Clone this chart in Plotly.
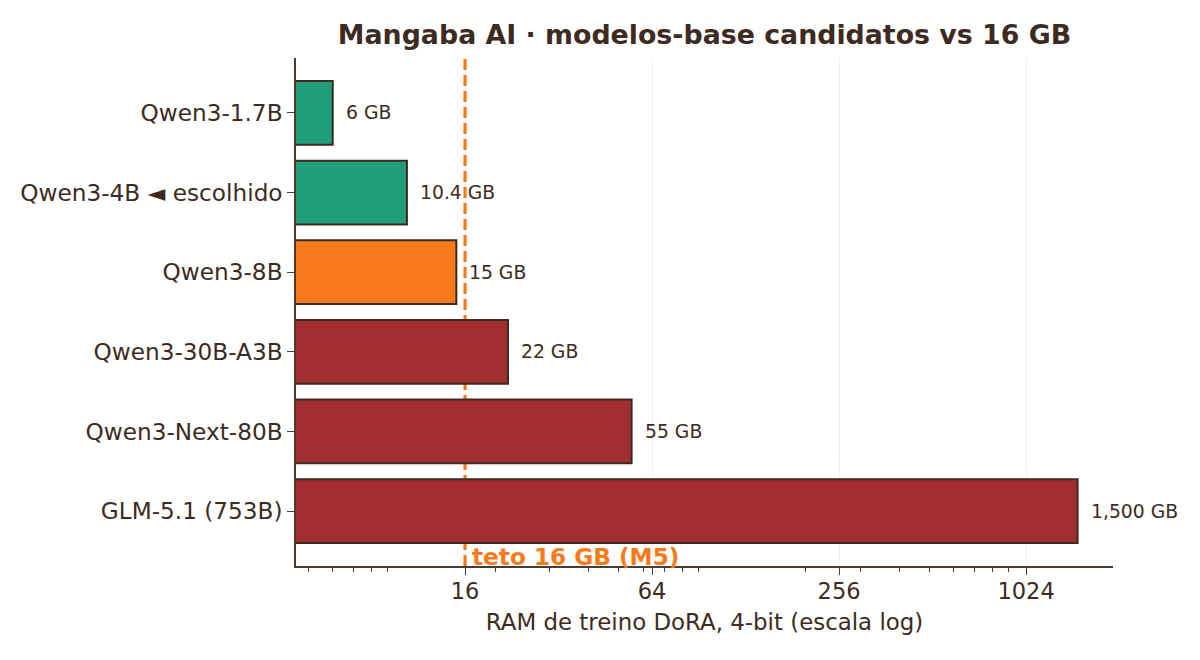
import math
import plotly.graph_objects as go

# ---- data ----
models = ["Qwen3-1.7B", "Qwen3-4B ◄ escolhido", "Qwen3-8B", "Qwen3-30B-A3B",
          "Qwen3-Next-80B", "GLM-5.1 (753B)"]
ram_gb = [6, 10.4, 15, 22, 55, 1500]
bar_colors = ["#1f9e77", "#1f9e77", "#f97a1b", "#a12d2f", "#a12d2f", "#a12d2f"]
ceiling_gb = 16
ceiling_label = "teto 16 GB (M5)"
x_tickvals = [16, 64, 256, 1024]
x_ticktext = ["16", "64", "256", "1024"]
minor_vals = [5, 6, 7, 8, 9, 20, 30, 40, 50, 60, 70, 80, 90,
              200, 300, 400, 500, 600, 700, 800, 900]
title = "Mangaba AI · modelos-base candidatos vs 16 GB"
x_title = "RAM de treino DoRA, 4-bit (escala log)"

TXT = "#3d2b22"
AX = "#4a3b33"
FONT = "DejaVu Sans"
ORANGE = "#f97a1b"

fig = go.Figure()

# ceiling line on the hidden base subplot (drawn behind the bars)
fig.add_trace(go.Scatter(
    x=[ceiling_gb, ceiling_gb], y=[0, 1], xaxis="x", yaxis="y",
    mode="lines", line=dict(color=ORANGE, width=3.2, dash="11px,5px"),
    showlegend=False, hoverinfo="skip",
))

# bars on the categorical overlay axis
fig.add_trace(go.Bar(
    y=models, x=ram_gb, orientation="h", xaxis="x", yaxis="y2",
    marker=dict(color=bar_colors, line=dict(color=TXT, width=2)),
    width=0.8, showlegend=False, hoverinfo="x+y",
))

# value labels
for m, v in zip(models, ram_gb):
    fig.add_annotation(x=math.log10(v), y=m, xref="x", yref="y2",
                       text=f"{v:,g} GB", showarrow=False, xanchor="left",
                       yanchor="middle", xshift=11,
                       font=dict(family=FONT, size=18.8, color=TXT))

fig.add_annotation(x=math.log10(ceiling_gb), y=0.018, xref="x", yref="paper",
                   text=f"<b>{ceiling_label}</b>", showarrow=False,
                   xanchor="left", yanchor="middle", xshift=5,
                   font=dict(family=FONT, size=23.2, color=ORANGE))

fig.update_layout(
    width=1200, height=660,
    margin=dict(l=296, r=87, t=58, b=94),
    paper_bgcolor="white", plot_bgcolor="white",
    font=dict(family=FONT, color=TXT),
    title=dict(text=f"<b>{title}</b>", x=0.5, xref="paper", xanchor="center",
               y=1, yref="container", yanchor="top", pad=dict(t=25),
               font=dict(family=FONT, size=26.8, color=TXT)),
    bargap=0.2,
    xaxis=dict(
        type="log", range=[math.log10(4.57), math.log10(1950)],
        tickmode="array", tickvals=x_tickvals, ticktext=x_ticktext,
        ticks="outside", ticklen=7, tickwidth=1.4, tickcolor=AX,
        tickfont=dict(family=FONT, size=22.5, color=TXT),
        ticklabelstandoff=-3,
        showline=True, linecolor=AX, linewidth=1.6,
        showgrid=True, gridcolor="#efefef", gridwidth=1,
        zeroline=False, anchor="y",
        minor=dict(tickmode="array", tickvals=minor_vals, ticks="outside",
                   ticklen=4, tickwidth=1.2, tickcolor=AX, showgrid=False),
        title=dict(text=x_title, font=dict(family=FONT, size=22.9, color=TXT),
                   standoff=11),
    ),
    yaxis=dict(range=[0, 1], visible=False, fixedrange=True),
    yaxis2=dict(
        overlaying="y", side="left", anchor="x",
        type="category", categoryorder="array", categoryarray=models,
        range=[5.69, -0.69],
        ticks="outside", ticklen=7, tickwidth=1.4, tickcolor=AX,
        tickfont=dict(family=FONT, size=23.2, color=TXT),
        showline=True, linecolor=AX, linewidth=1.6, showgrid=False,
        zeroline=False,
    ),
)

fig.write_html("out.html")
